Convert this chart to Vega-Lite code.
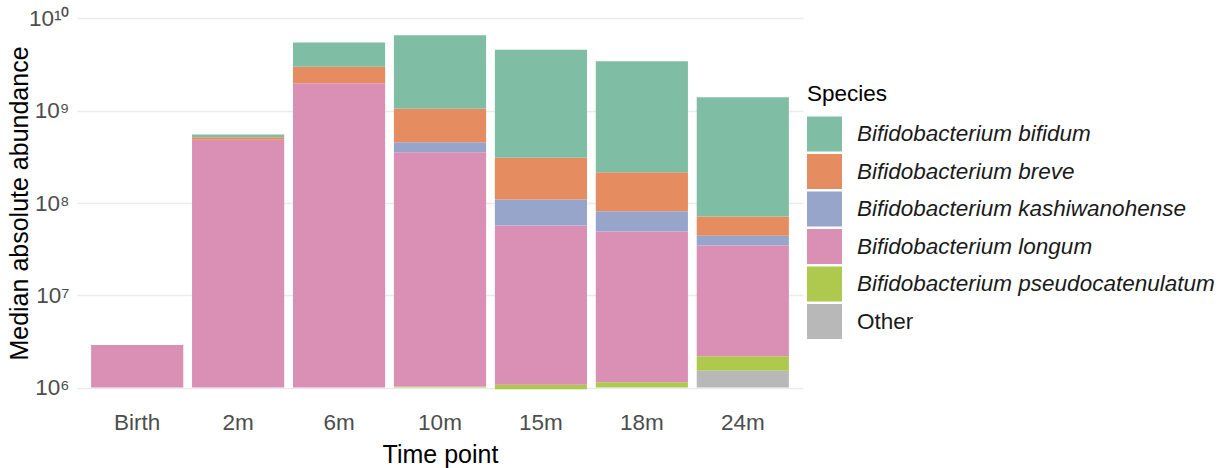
{
  "$schema": "https://vega.github.io/schema/vega-lite/v6.json",
  "autosize": {"type": "none"},
  "padding": {"left": 77, "top": 0, "right": 419, "bottom": 62},
  "width": 726,
  "height": 406,
  "background": "white",
  "config": {
    "view": {"stroke": null},
    "font": "Liberation Sans",
    "axis": {"gridColor": "#ebebeb", "gridWidth": 1.5, "domain": false, "ticks": false}
  },
  "data": {
    "values": [
      {"time": "Birth", "species": "Bifidobacterium longum", "lo": 1e6, "hi": 2.9e6},
      {"time": "2m", "species": "Bifidobacterium longum", "lo": 1e6, "hi": 4.84e8},
      {"time": "2m", "species": "Bifidobacterium breve", "lo": 4.84e8, "hi": 5.17e8},
      {"time": "2m", "species": "Bifidobacterium bifidum", "lo": 5.17e8, "hi": 5.53e8},
      {"time": "6m", "species": "Bifidobacterium longum", "lo": 1e6, "hi": 1.99e9},
      {"time": "6m", "species": "Bifidobacterium breve", "lo": 1.99e9, "hi": 2.99e9},
      {"time": "6m", "species": "Bifidobacterium bifidum", "lo": 2.99e9, "hi": 5.5e9},
      {"time": "10m", "species": "Bifidobacterium pseudocatenulatum", "lo": 1e6, "hi": 1.025e6},
      {"time": "10m", "species": "Bifidobacterium longum", "lo": 1.025e6, "hi": 3.55e8},
      {"time": "10m", "species": "Bifidobacterium kashiwanohense", "lo": 3.55e8, "hi": 4.56e8},
      {"time": "10m", "species": "Bifidobacterium breve", "lo": 4.56e8, "hi": 1.05e9},
      {"time": "10m", "species": "Bifidobacterium bifidum", "lo": 1.05e9, "hi": 6.59e9},
      {"time": "15m", "species": "Bifidobacterium pseudocatenulatum", "lo": 0.96e6, "hi": 1.07e6},
      {"time": "15m", "species": "Bifidobacterium longum", "lo": 1.07e6, "hi": 5.7e7},
      {"time": "15m", "species": "Bifidobacterium kashiwanohense", "lo": 5.7e7, "hi": 1.09e8},
      {"time": "15m", "species": "Bifidobacterium breve", "lo": 1.09e8, "hi": 3.09e8},
      {"time": "15m", "species": "Bifidobacterium bifidum", "lo": 3.09e8, "hi": 4.58e9},
      {"time": "18m", "species": "Bifidobacterium pseudocatenulatum", "lo": 1e6, "hi": 1.14e6},
      {"time": "18m", "species": "Bifidobacterium longum", "lo": 1.14e6, "hi": 4.91e7},
      {"time": "18m", "species": "Bifidobacterium kashiwanohense", "lo": 4.91e7, "hi": 8.15e7},
      {"time": "18m", "species": "Bifidobacterium breve", "lo": 8.15e7, "hi": 2.16e8},
      {"time": "18m", "species": "Bifidobacterium bifidum", "lo": 2.16e8, "hi": 3.44e9},
      {"time": "24m", "species": "Other", "lo": 1e6, "hi": 1.52e6},
      {"time": "24m", "species": "Bifidobacterium pseudocatenulatum", "lo": 1.52e6, "hi": 2.18e6},
      {"time": "24m", "species": "Bifidobacterium longum", "lo": 2.18e6, "hi": 3.46e7},
      {"time": "24m", "species": "Bifidobacterium kashiwanohense", "lo": 3.46e7, "hi": 4.41e7},
      {"time": "24m", "species": "Bifidobacterium breve", "lo": 4.41e7, "hi": 7.14e7},
      {"time": "24m", "species": "Bifidobacterium bifidum", "lo": 7.14e7, "hi": 1.40e9}
    ]
  },
  "mark": {"type": "bar", "strokeWidth": 0},
  "encoding": {
    "x": {
      "field": "time", "type": "nominal",
      "sort": ["Birth", "2m", "6m", "10m", "15m", "18m", "24m"],
      "scale": {"paddingInner": 0.087, "paddingOuter": 0.14},
      "axis": {
        "title": "Time point", "labelAngle": 0, "bandPosition": 0.5,
        "labelFontSize": 22.5, "labelColor": "#4d4d4d", "labelPadding": 5,
        "titleFontSize": 25, "titleFontWeight": "normal", "titleColor": "#000000",
        "titleBaseline": "top", "titleY": 36
      }
    },
    "y": {
      "field": "lo", "type": "quantitative",
      "scale": {"type": "log", "domain": [630957.3, 15848931925], "nice": false},
      "axis": {
        "title": "Median absolute abundance",
        "values": [1e6, 1e7, 1e8, 1e9, 1e10],
        "labelExpr": "'10' + ['⁶','⁷','⁸','⁹','¹⁰'][round(log(datum.value)/LN10) - 6]",
        "labelFontSize": 22.5, "labelColor": "#4d4d4d", "labelPadding": 8,
        "titleFontSize": 25, "titleFontWeight": "normal", "titleColor": "#000000",
        "titleX": -45
      }
    },
    "y2": {"field": "hi"},
    "color": {
      "field": "species", "type": "nominal",
      "scale": {
        "domain": ["Bifidobacterium bifidum", "Bifidobacterium breve", "Bifidobacterium kashiwanohense", "Bifidobacterium longum", "Bifidobacterium pseudocatenulatum", "Other"],
        "range": ["#7fbea4", "#e58c61", "#97a5cb", "#da8fb5", "#afc94f", "#b8b8b8"]
      },
      "legend": {
        "title": "Species", "orient": "none", "legendX": 730, "legendY": 83,
        "titleFontSize": 22.5, "titleFontWeight": "normal", "titleColor": "#000000", "titlePadding": 11,
        "labelFontSize": 22.5, "labelColor": "#1a1a1a", "labelOffset": 15, "labelLimit": 420,
        "symbolType": "square", "symbolSize": 1225, "symbolStrokeWidth": 0, "symbolOpacity": 1,
        "rowPadding": 2.5,
        "encode": {"labels": {"update": {"fontStyle": {"signal": "datum.label === 'Other' ? 'normal' : 'italic'"}}}}
      }
    }
  }
}
